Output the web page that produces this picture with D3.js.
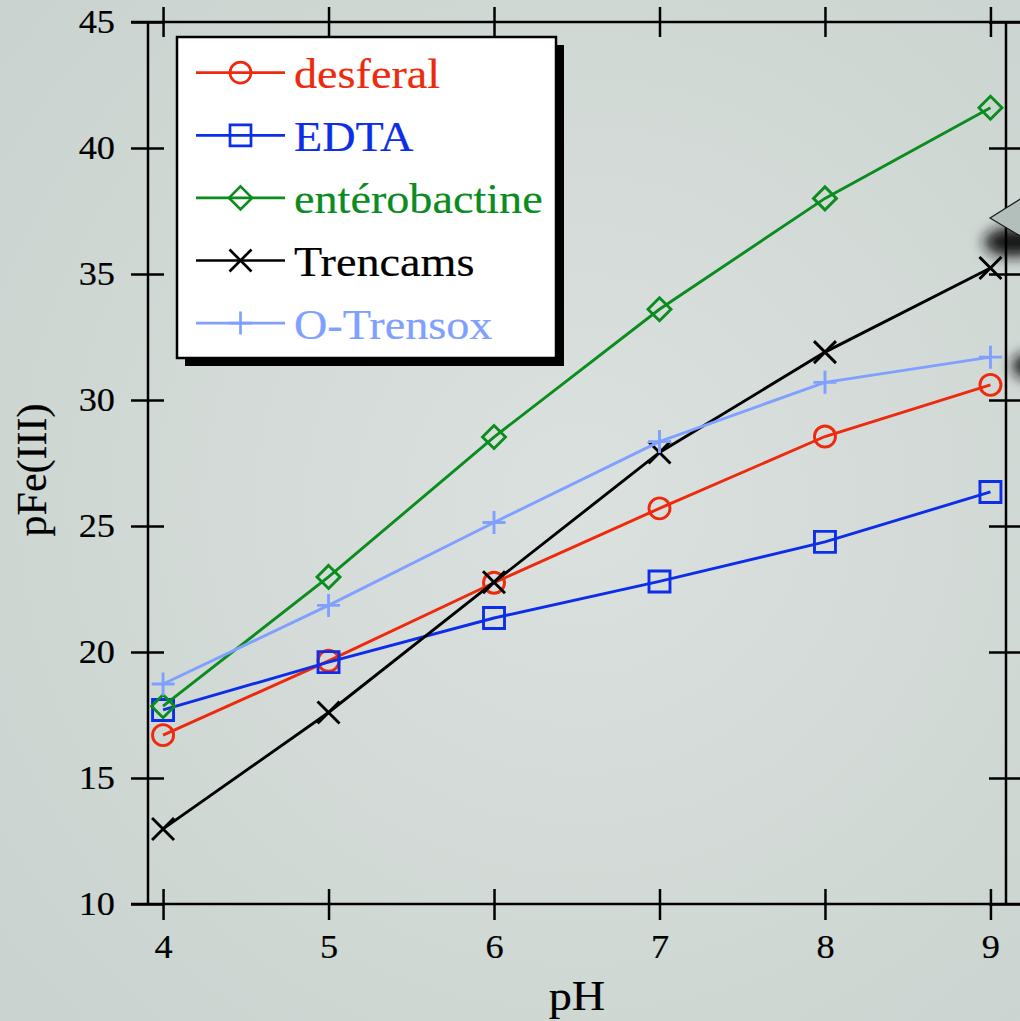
<!DOCTYPE html>
<html>
<head>
<meta charset="utf-8">
<script src="https://cdn.jsdelivr.net/npm/d3@7"></script>
<style>
  html, body { margin: 0; padding: 0; background: #d3dad7; }
  svg { display: block; }
</style>
</head>
<body>
<div id="chart"></div>
<script>
// pH values and pFe(III)
const phValues = [4, 5, 6, 7, 8, 9];
const desferal = [16.7, 19.65, 22.75, 25.7, 28.55, 30.6];
const edta = [17.7, 19.6, 21.35, 22.8, 24.37, 26.35];
const enterobactine = [17.85, 22.98, 28.53, 33.6, 38.0, 41.6];
const trencams = [12.98, 17.6, 22.77, 27.92, 31.9, 35.24];
const oTrensox = [18.73, 21.85, 25.14, 28.35, 30.7, 31.7];

const seriesNames = ['desferal', 'EDTA', 'entérobactine', 'Trencams', 'O-Trensox'];
const seriesColors = ['#ee2a0e', '#0d2ee8', '#0b8c1e', '#000000', '#7fa0ff'];
const seriesMarkers = ['circle', 'square', 'diamond', 'x', 'plus'];
const seriesValues = [desferal, edta, enterobactine, trencams, oTrensox];

const xTicks = [4, 5, 6, 7, 8, 9];
const yTicks = [10, 15, 20, 25, 30, 35, 40, 45];

const W = 1020, H = 1021;
const FONT = '"Liberation Serif", "Times New Roman", Times, serif';
const LW = 2.9;

// marker path centred on 0,0
function markerPath(type) {
  const p = d3.path();
  if (type === 'circle') {
    p.moveTo(10.5, 0);
    p.arc(0, 0, 10.5, 0, Math.PI * 2);
  } else if (type === 'square') {
    p.rect(-10.5, -10.5, 21, 21);
  } else if (type === 'diamond') {
    const s = 11.5;
    p.moveTo(0, -s); p.lineTo(s, 0); p.lineTo(0, s); p.lineTo(-s, 0); p.closePath();
  } else if (type === 'x') {
    const s = 11;
    p.moveTo(-s, -s); p.lineTo(s, s); p.moveTo(-s, s); p.lineTo(s, -s);
  } else {
    const s = 11.5;
    p.moveTo(-s, 0); p.lineTo(s, 0); p.moveTo(0, -s); p.lineTo(0, s);
  }
  return p.toString();
}

const svg = d3.select('#chart').append('svg')
  .attr('width', W)
  .attr('height', H);

const defs = svg.append('defs');
const grad = defs.append('radialGradient')
  .attr('id', 'bg')
  .attr('gradientUnits', 'userSpaceOnUse')
  .attr('cx', 580).attr('cy', 500).attr('r', 800);
grad.append('stop').attr('offset', '0%').attr('stop-color', '#dbe1de');
grad.append('stop').attr('offset', '100%').attr('stop-color', '#c9d2ce');

defs.append('filter').attr('id', 'blur')
  .attr('x', '-50%').attr('y', '-50%').attr('width', '200%').attr('height', '200%')
  .append('feGaussianBlur').attr('stdDeviation', 7);

svg.append('rect').attr('width', W).attr('height', H).attr('fill', 'url(#bg)');

const x = d3.scaleLinear().domain([3.909, 9.094]).range([148, 1006]);
const y = d3.scaleLinear().domain([10, 45]).range([904, 22]);

// slide decoration bits on the right edge
svg.append('ellipse').attr('cx', 1014).attr('cy', 242).attr('rx', 30).attr('ry', 15)
  .attr('fill', '#151515').attr('filter', 'url(#blur)');
svg.append('ellipse').attr('cx', 1032).attr('cy', 366).attr('rx', 20).attr('ry', 13)
  .attr('fill', '#151515').attr('filter', 'url(#blur)');

// frame
const frame = svg.append('g').attr('stroke', '#000').attr('stroke-width', 2.5);
frame.append('line').attr('x1', 148).attr('x2', 148).attr('y1', y(45)).attr('y2', y(10));
frame.append('line').attr('x1', 1006).attr('x2', 1006).attr('y1', y(45)).attr('y2', y(10));
frame.append('line').attr('x1', 131).attr('x2', W).attr('y1', y(45)).attr('y2', y(45));
frame.append('line').attr('x1', 131).attr('x2', W).attr('y1', y(10)).attr('y2', y(10));

function styleAxis(g) {
  g.select('.domain').remove();
  g.selectAll('.tick line').attr('stroke', '#000').attr('stroke-width', 2.5);
  g.selectAll('.tick text')
    .attr('fill', '#000')
    .attr('stroke', '#000')
    .attr('stroke-width', 0.2)
    .style('font-family', FONT)
    .style('font-size', '33px');
}

svg.append('g').attr('transform', 'translate(148,0)')
  .call(d3.axisLeft(y).tickValues(yTicks).tickSize(17))
  .call(styleAxis)
  .call(g => g.selectAll('.tick line').attr('x1', 16))
  .call(g => g.selectAll('.tick text').attr('x', -30).attr('transform', 'scale(1.1,1)'));

svg.append('g').attr('transform', 'translate(1006,0)')
  .call(d3.axisRight(y).tickValues(yTicks).tickSize(17).tickFormat(''))
  .call(styleAxis)
  .call(g => g.selectAll('.tick line').attr('x1', -17));

svg.append('g').attr('transform', 'translate(0,904)')
  .call(d3.axisBottom(x).tickValues(xTicks).tickSize(16).tickFormat(d3.format('d')))
  .call(styleAxis)
  .call(g => g.selectAll('.tick line').attr('y1', -15))
  .call(g => g.selectAll('.tick text').attr('y', 54).attr('dy', null).attr('transform', 'scale(1.1,1)'));

svg.append('g').attr('transform', 'translate(0,22)')
  .call(d3.axisTop(x).tickValues(xTicks).tickSize(15).tickFormat(''))
  .call(styleAxis)
  .call(g => g.selectAll('.tick line').attr('y1', 15));

// series
const line = d3.line().x((d, i) => x(phValues[i])).y(d => y(d));

seriesValues.forEach((vals, k) => {
  const g = svg.append('g');
  g.append('path')
    .attr('d', line(vals))
    .attr('fill', 'none')
    .attr('stroke', seriesColors[k])
    .attr('stroke-width', LW);
  g.selectAll('path.mark')
    .data(vals)
    .enter()
    .append('path')
    .attr('class', 'mark')
    .attr('transform', (d, i) => `translate(${x(phValues[i])},${y(d)})`)
    .attr('d', markerPath(seriesMarkers[k]))
    .attr('fill', 'none')
    .attr('stroke', seriesColors[k])
    .attr('stroke-width', LW);
});

// grey arrow shape from the slide, cut by the edge
svg.append('path')
  .attr('d', 'M990,218 L1022,198 L1022,237 Z')
  .attr('fill', '#b3bfbb')
  .attr('stroke', '#1a1a1a')
  .attr('stroke-width', 1.2);

// legend
const legend = svg.append('g');
legend.append('rect').attr('x', 185).attr('y', 45).attr('width', 379).attr('height', 321).attr('fill', '#000');
legend.append('rect').attr('x', 177).attr('y', 37).attr('width', 379).attr('height', 321)
  .attr('fill', '#fff').attr('stroke', '#000').attr('stroke-width', 2.5);

seriesNames.forEach((name, k) => {
  const ry = 72.7 + k * 62.6;
  legend.append('line')
    .attr('x1', 196).attr('x2', 285).attr('y1', ry).attr('y2', ry)
    .attr('stroke', seriesColors[k]).attr('stroke-width', 2.7);
  legend.append('path')
    .attr('transform', `translate(240.5,${ry})`)
    .attr('d', markerPath(seriesMarkers[k]))
    .attr('fill', 'none')
    .attr('stroke', seriesColors[k])
    .attr('stroke-width', 2.7);
  legend.append('text')
    .attr('transform', `translate(294,${ry + 15.5}) scale(1.1,1)`)
    .attr('fill', seriesColors[k])
    .attr('stroke', seriesColors[k])
    .attr('stroke-width', 0.2)
    .style('font-family', FONT)
    .style('font-size', '42px')
    .text(name);
});

// axis titles
svg.append('text')
  .attr('transform', 'translate(577,1010) scale(1.1,1)')
  .attr('text-anchor', 'middle')
  .attr('stroke', '#000')
  .attr('stroke-width', 0.2)
  .style('font-family', FONT)
  .style('font-size', '42px')
  .text('pH');

svg.append('text')
  .attr('transform', 'translate(46,470) rotate(-90)')
  .attr('text-anchor', 'middle')
  .attr('stroke', '#000')
  .attr('stroke-width', 0.2)
  .style('font-family', FONT)
  .style('font-size', '42px')
  .text('pFe(III)');
</script>
</body>
</html>
